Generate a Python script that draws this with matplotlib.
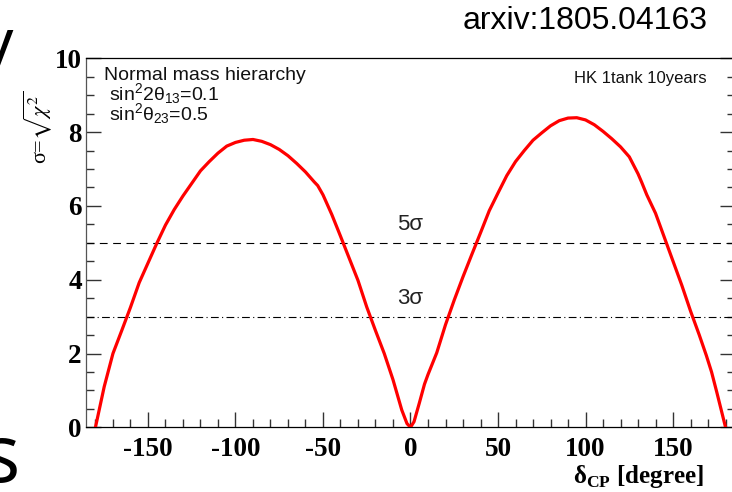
import matplotlib
matplotlib.use("Agg")
import matplotlib.pyplot as plt
from matplotlib.ticker import MultipleLocator

plt.rcParams["mathtext.fontset"] = "custom"
plt.rcParams["mathtext.rm"] = "Liberation Sans"
plt.rcParams["mathtext.it"] = "Liberation Sans:italic"
plt.rcParams["mathtext.bf"] = "Liberation Serif:bold"
plt.rcParams["axes.unicode_minus"] = False

# sensitivity curve (delta_CP in degrees, sigma)
delta_cp = [-180, -175, -170, -165, -160, -155, -150, -145, -140, -135,
            -130, -125, -120, -115, -110, -105, -100, -95, -90, -85,
            -80, -75, -70, -65, -60, -55, -53, -50, -45, -40,
            -35, -30, -25, -20, -15, -10, -5, -2, 0, 2,
            5, 8, 10, 15, 20, 25, 30, 35, 40, 45,
            50, 55, 60, 65, 70, 75, 80, 85, 90, 95,
            100, 105, 110, 115, 120, 125, 130, 132, 135, 140,
            145, 150, 155, 160, 165, 169, 172, 175, 178, 180]
sigma = [0.0, 1.1, 2.0, 2.62, 3.25, 3.92, 4.45, 4.98, 5.48, 5.9,
         6.27, 6.61, 6.95, 7.2, 7.43, 7.62, 7.72, 7.78, 7.80, 7.75,
         7.66, 7.53, 7.36, 7.15, 6.92, 6.65, 6.55, 6.3, 5.77, 5.18,
         4.58, 3.98, 3.26, 2.62, 2.0, 1.29, 0.47, 0.1, 0.0, 0.15,
         0.65, 1.17, 1.43, 2.02, 2.78, 3.45, 4.08, 4.68, 5.27, 5.87,
         6.35, 6.82, 7.2, 7.5, 7.78, 7.98, 8.17, 8.31, 8.38, 8.39,
         8.33, 8.2, 8.02, 7.82, 7.6, 7.33, 6.87, 6.65, 6.3, 5.8,
         5.15, 4.5, 3.85, 3.15, 2.5, 1.95, 1.5, 0.95, 0.38, 0.0]

levels = [5, 3]
level_labels = ["5σ", "3σ"]
level_styles = [(0, (7, 5)), (0, (7, 3, 1, 3))]

info_lines = ["Normal mass hierarchy", "sin$^{2}$2θ$_{13}$=0.1",
              "sin$^{2}$θ$_{23}$=0.5"]
info_x = [0.028, 0.035, 0.035]
info_y = [0.942, 0.887, 0.833]

fig = plt.figure(figsize=(7.32, 4.92), dpi=100)
ax = fig.add_axes([86 / 732, 1 - 427.3 / 492, 649 / 732, 369 / 492])

ax.plot(delta_cp, sigma, color="red", linewidth=2.3, zorder=3)
for lev, lab, ls in zip(levels, level_labels, level_styles):
    ax.axhline(lev, color="black", linewidth=0.8, linestyle=ls)
    ax.text(0, lev + 0.2, lab, ha="center", va="bottom", fontsize=16,
            family="Liberation Sans", color="#222222")

ax.set_xlim(-185.4, 185.4)
ax.set_ylim(0, 10)
ax.xaxis.set_major_locator(MultipleLocator(50))
ax.xaxis.set_minor_locator(MultipleLocator(10))
ax.yaxis.set_major_locator(MultipleLocator(2))
ax.yaxis.set_minor_locator(MultipleLocator(0.5))
ax.tick_params(which="both", direction="in", top=False, right=True,
               color="#333333", width=1)
ax.tick_params(which="major", length=11)
ax.tick_params(which="minor", length=5.5)
ax.tick_params(axis="x", pad=7)
ax.tick_params(axis="y", pad=3)
for lab in ax.get_xticklabels() + ax.get_yticklabels():
    lab.set_family("Liberation Serif")
    lab.set_weight("bold")
    lab.set_fontsize(19.5)
for sp in ax.spines.values():
    sp.set_linewidth(0.9)
ax.spines["left"].set_color("#555555")

for txt, x, y in zip(info_lines, info_x, info_y):
    ax.text(x, y, txt, transform=ax.transAxes, ha="left", va="baseline",
            fontsize=14, family="Liberation Sans", color="#111111")
ax.text(0.956, 0.965, "HK 1tank 10years", transform=ax.transAxes,
        ha="right", va="top", fontsize=12, family="Liberation Sans",
        color="#111111")

fig.text(38 / 732, 1 - 127 / 492, r"σ=$\sqrt{\chi^{2}}$", rotation=90,
         ha="center", va="center", fontsize=16, family="Liberation Serif",
         math_fontfamily="stix")
fig.text(704 / 732, 15 / 492, "δ$_{\\mathbf{CP}}$ [degree]", ha="right",
         va="center", fontsize=18, family="Liberation Serif",
         weight="bold")

fig.text(708 / 732, 1 - 21 / 492, "arxiv:1805.04163", ha="right",
         va="center", fontsize=23, family="Liberation Sans")

# slide fragments around the figure
fig.text(13 / 732, 1 - 15 / 492, "y", ha="right", va="top",
         fontsize=48, family="Open Sans")
fig.text(20 / 732, 1 - 482 / 492, "s", ha="right", va="baseline",
         fontsize=58, family="Open Sans")

fig.savefig("out.png", dpi=100)
